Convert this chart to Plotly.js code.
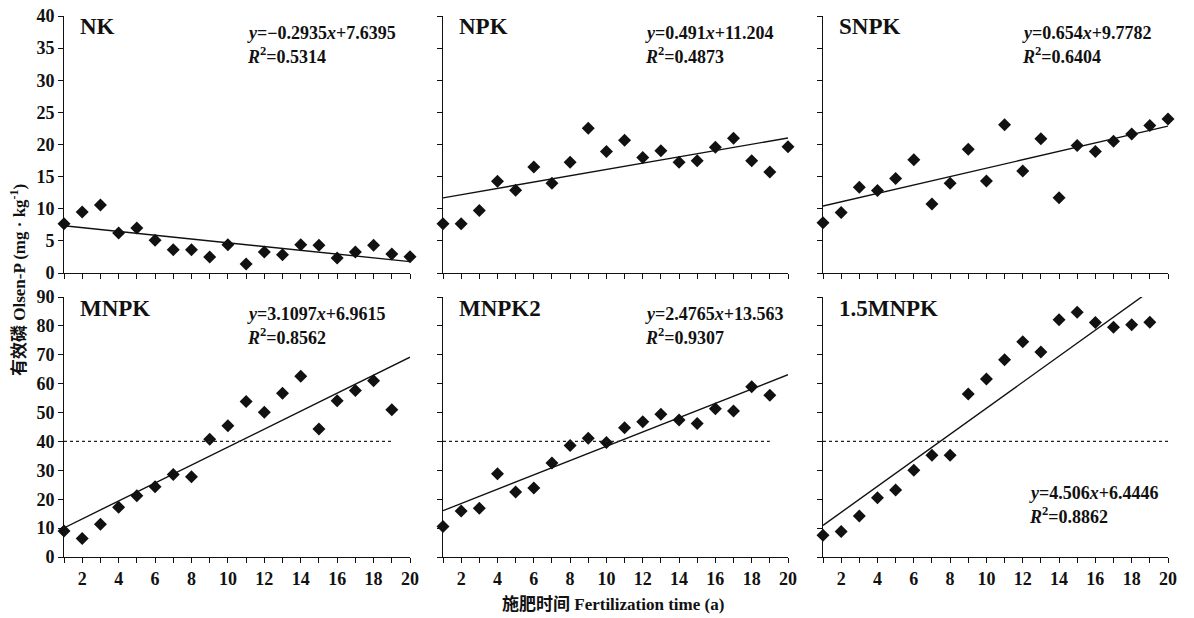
<!DOCTYPE html>
<html><head><meta charset="utf-8">
<script src="https://cdn.plot.ly/plotly-3.0.1.min.js"></script>
<style>html,body{margin:0;padding:0;background:#fff}</style>
</head><body><div id="chart" style="width:1194px;height:618px"></div>
<script>
const years = [1,2,3,4,5,6,7,8,9,10,11,12,13,14,15,16,17,18,19,20];
const panelNames = ["NK","NPK","SNPK","MNPK","MNPK2","1.5MNPK"];
const NK    = [7.67,9.48,10.57,6.22,7.0,5.08,3.63,3.63,2.49,4.40,1.40,3.26,2.85,4.40,4.30,2.33,3.26,4.30,2.95,2.54];
const NPK   = [7.68,7.68,9.74,14.28,12.89,16.49,13.97,17.22,22.53,18.92,20.67,17.99,19.02,17.22,17.47,19.59,20.98,17.47,15.72,19.64];
const SNPK  = [7.84,9.43,13.35,12.84,14.69,17.63,10.72,13.97,19.28,14.33,23.09,15.88,20.88,11.70,19.85,18.92,20.52,21.65,22.94,23.97];
const MNPK  = [9.0,6.4,11.3,17.2,21.2,24.3,28.6,27.8,40.8,45.4,53.8,50.1,56.7,62.6,44.3,54.1,57.6,61.0,51.0];
const MNPK2 = [10.6,15.9,16.9,28.8,22.5,23.9,32.5,38.6,41.1,39.6,44.7,46.8,49.4,47.4,46.2,51.3,50.5,58.9,56.0];
const MNPK15= [7.5,8.8,14.2,20.5,23.2,30.0,35.2,35.2,56.4,61.6,68.3,74.5,71.0,82.1,84.7,81.2,79.5,80.4,81.3];
const slopes = [-0.2935,0.491,0.654,3.1097,2.4765,4.506];
const intercepts = [7.6395,11.204,9.7782,6.9615,13.563,6.4446];
const eqTexts = ["<i>y</i>=−0.2935<i>x</i>+7.6395","<i>y</i>=0.491<i>x</i>+11.204","<i>y</i>=0.654<i>x</i>+9.7782",
                 "<i>y</i>=3.1097<i>x</i>+6.9615","<i>y</i>=2.4765<i>x</i>+13.563","<i>y</i>=4.506<i>x</i>+6.4446"];
const r2Texts = ["0.5314","0.4873","0.6404","0.8562","0.9307","0.8862"];
const threshold = 40;
const thresholdEnd = [null,null,null,19,19,20];
const topTicks = [0,5,10,15,20,25,30,35,40];
const bottomTicks = [0,10,20,30,40,50,60,70,80,90];
const xLabelTicks = [2,4,6,8,10,12,14,16,18,20];

const series = [NK,NPK,SNPK,MNPK,MNPK2,MNPK15];
const W = 1194, H = 618;
const colPx = [[64,410],[443,788],[823,1168]];
const rowPx = [[16,273],[297,557]];
const FONT = "Liberation Serif, Times New Roman, serif";

const traces = [];
const layout = {
  width: W, height: H, margin:{l:0,r:0,t:0,b:0},
  paper_bgcolor:"#fff", plot_bgcolor:"rgba(0,0,0,0)", showlegend:false,
  font:{family:FONT, color:"#111"},
  annotations:[]
};
const ann = layout.annotations;
for (let i=0;i<6;i++){
  const col=i%3, row=Math.floor(i/3);
  const xa = i===0?"x":"x"+(i+1), ya = i===0?"y":"y"+(i+1);
  const xk = i===0?"xaxis":"xaxis"+(i+1), yk = i===0?"yaxis":"yaxis"+(i+1);
  const data = series[i];
  traces.push({x:years.slice(0,data.length), y:data, xaxis:xa, yaxis:ya, type:"scatter", mode:"markers",
    marker:{symbol:"diamond", size:10, color:"#111"}, cliponaxis:false});
  traces.push({x:[1,20], y:[slopes[i]*1+intercepts[i], slopes[i]*20+intercepts[i]], xaxis:xa, yaxis:ya,
    type:"scatter", mode:"lines", line:{color:"#111", width:1.4}});
  if (thresholdEnd[i]) {
    traces.push({x:[1,thresholdEnd[i]], y:[threshold,threshold], xaxis:xa, yaxis:ya, type:"scatter", mode:"lines",
      line:{color:"#222", width:1.2, dash:"dot"}});
  }
  layout[xk] = {domain:[colPx[col][0]/W, colPx[col][1]/W], range:[1,20], anchor:ya,
    tickmode:"array", tickvals:xLabelTicks, ticks:"outside", ticklen:5, tickwidth:1, tickcolor:"#111",
    minor:{tick0:1, dtick:1, ticks:"outside", ticklen:5, tickwidth:1, tickcolor:"#111", showgrid:false},
    showline:true, linecolor:"#111", linewidth:1, showgrid:false, zeroline:false,
    showticklabels: row===1, tickfont:{family:FONT, size:18, color:"#111", weight:"bold"}};
  layout[yk] = {domain:[1-rowPx[row][1]/H, 1-rowPx[row][0]/H], range: row===0?[0,40]:[0,90], anchor:xa,
    tickmode:"array", tickvals: row===0?topTicks:bottomTicks, ticks:"outside", ticklen:5, tickwidth:1, tickcolor:"#111",
    showline:true, linecolor:"#111", linewidth:1, showgrid:false, zeroline:false,
    showticklabels: col===0, tickfont:{family:FONT, size:18, color:"#111", weight:"bold"}};
  ann.push({xref:"paper", yref:"paper", x:(colPx[col][0]+14)/W, y:1-(rowPx[row][0]+11)/H, xanchor:"left", yanchor:"middle",
    text:panelNames[i], showarrow:false, font:{family:FONT, size:23, color:"#111", weight:"bold"}});
  let ex, ey;
  if (i===5) { ex = 1027; ey = 493; }
  else { ex = [245,643,1020][col]; ey = rowPx[row][0]+17; }
  ann.push({xref:"paper", yref:"paper", x:ex/W, y:1-ey/H, xanchor:"left", yanchor:"middle",
    text:eqTexts[i], showarrow:false, font:{family:FONT, size:18, color:"#111", weight:"bold"}});
  ann.push({xref:"paper", yref:"paper", x:ex/W, y:1-(ey+22)/H, xanchor:"left", yanchor:"middle",
    text:"<i>R</i><sup>2</sup>="+r2Texts[i], showarrow:false, font:{family:FONT, size:18, color:"#111", weight:"bold"}});
}
ann.push({xref:"paper", yref:"paper", x:613/W, y:1-604/H, xanchor:"center", yanchor:"middle", showarrow:false,
  text:"施肥时间 Fertilization time (a)", font:{family:"Liberation Serif, Noto Sans CJK SC, serif", size:17, color:"#111", weight:"bold"}});
ann.push({xref:"paper", yref:"paper", x:18/W, y:1-280/H, xanchor:"center", yanchor:"middle", showarrow:false, textangle:-90,
  text:"有效磷 Olsen-P (mg · kg<sup>-1</sup>)", font:{family:"Liberation Serif, Noto Sans CJK SC, serif", size:17, color:"#111", weight:"bold"}});

Plotly.newPlot("chart", traces, layout, {staticPlot:true, displayModeBar:false});
</script></body></html>
